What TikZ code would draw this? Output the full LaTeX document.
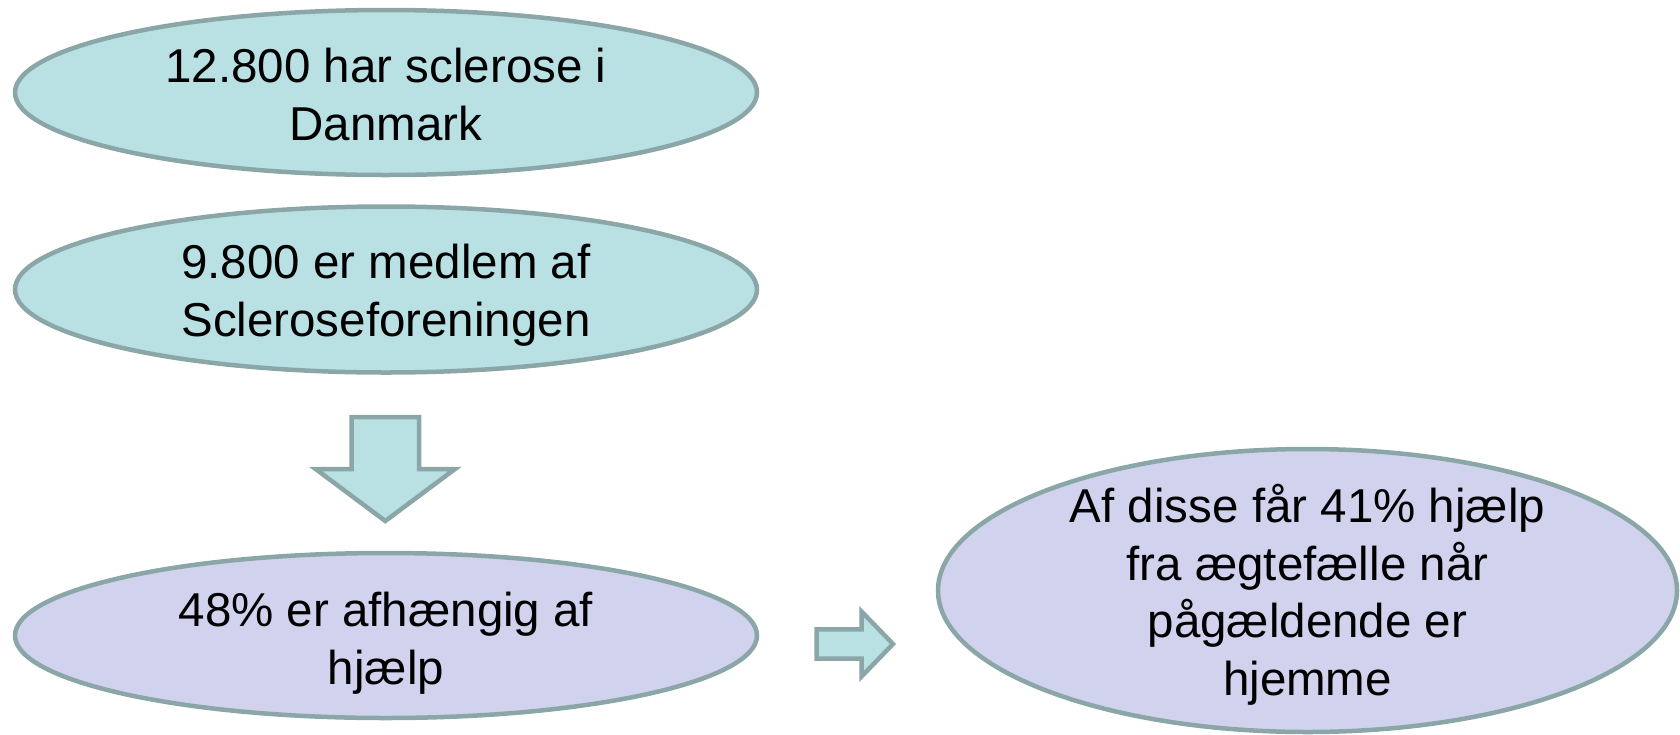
\documentclass[tikz,border=0pt]{standalone}
\usepackage{fontspec}
\setmainfont{Liberation Sans}
\usetikzlibrary{shapes.geometric}
\definecolor{tealfill}{RGB}{185,224,227}
\definecolor{lavfill}{RGB}{208,210,238}
\definecolor{edgegray}{RGB}{138,166,166}
\tikzset{
  oval/.style={ellipse, draw=edgegray, line width=4.5pt, inner sep=0pt},
  tealoval/.style={oval, fill=tealfill},
  lavoval/.style={oval, fill=lavfill},
  ovaltext/.style={align=center, inner sep=0pt, anchor=base,
    font=\fontsize{47.5}{57.5}\selectfont},
  blockarrow/.style={draw=edgegray, fill=tealfill, line width=4.5pt, line join=miter}
}
\begin{document}
\begin{tikzpicture}[x=1pt,y=-1pt]
\useasboundingbox (0,0) rectangle (1680,734);
% ellipses
\node[tealoval, minimum width=742pt, minimum height=165pt] (e1) at (386,92.5) {};
\node[tealoval, minimum width=742pt, minimum height=166pt] (e2) at (386,289.5) {};
\node[lavoval, minimum width=742pt, minimum height=165pt] (e3) at (386,635.5) {};
\node[lavoval, minimum width=739pt, minimum height=283pt] (e4) at (1307.5,590.5) {};
% texts (anchored at the baseline of the last line)
\node[ovaltext] (t1) at (386,140) {12.800 har sclerose i\\Danmark};
\node[ovaltext] (t2) at (386,336) {9.800 er medlem af\\Scleroseforeningen};
\node[ovaltext] (t3) at (386,684) {48\% er afhængig af\\hjælp};
\node[ovaltext] (t4) at (1307.5,695) {Af disse får 41\% hjælp\\fra ægtefælle når\\pågældende er\\hjemme};
% down block arrow
\draw[blockarrow] (351.7,417) -- (419,417) -- (419,469) -- (455,469) -- (385.3,521)
  -- (315.6,469) -- (351.7,469) -- cycle;
% right block arrow
\draw[blockarrow] (816.7,629.3) -- (861.7,629.3) -- (861.7,611.7) -- (893,644)
  -- (861.7,676.3) -- (861.7,658.7) -- (816.7,658.7) -- cycle;
\end{tikzpicture}
\end{document}
